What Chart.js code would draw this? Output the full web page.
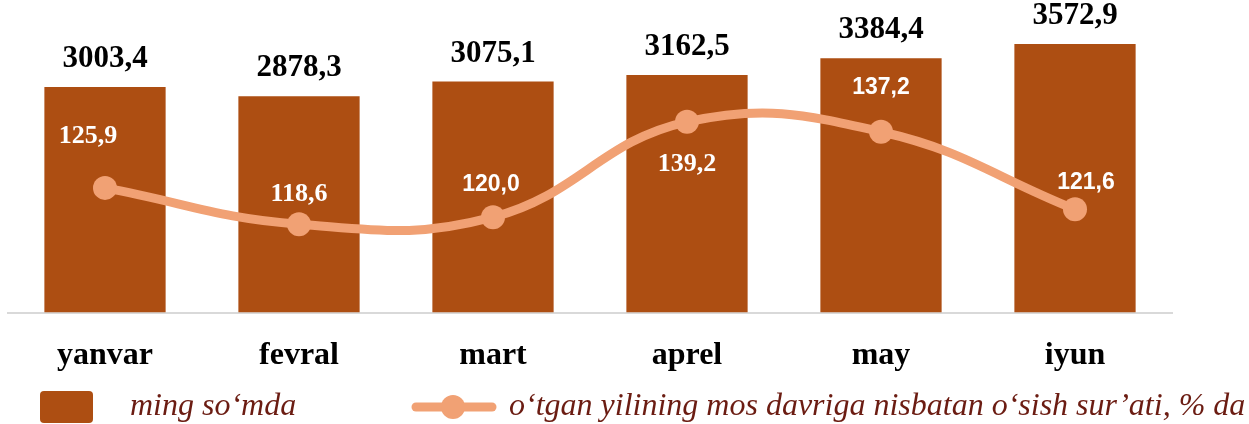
<!DOCTYPE html>
<html lang="uz">
<head>
<meta charset="UTF-8">
<title>Oylik ko'rsatkichlar</title>
<script src="https://cdn.jsdelivr.net/npm/chart.js"></script>
<style>
  body { margin: 0; background: #fff; overflow: hidden; }
  #chart { margin-left: -4px; display: block; }
</style>
</head>
<body>
<canvas id="chart" width="1253" height="424"></canvas>
<script>
// data
const months = ['yanvar', 'fevral', 'mart', 'aprel', 'may', 'iyun'];
const amounts = [3003.4, 2878.3, 3075.1, 3162.5, 3384.4, 3572.9];   // ming so'mda
const growth = [125.9, 118.6, 120.0, 139.2, 137.2, 121.6];          // % da
const barLegend = 'ming so‘mda';
const lineLegend = 'o‘tgan yilining mos davriga nisbatan o‘sish sur’ati, % da';

const BAR = '#AD4E12';
const LINE = '#F1A174';
const LEGEND_TXT = '#6B1C12';
const SHIFT = 4; // canvas is pulled 4px to the left

// label placement for the percent labels (dx, dy from the point, font family)
const growthLabelPos = [
  [-17, -52, 'serif'], [0, -30, 'serif'], [-2, -33, 'sans'],
  [0, 42, 'serif'], [0, -44, 'sans'], [11, -27, 'sans']
];

const fmt = v => v.toFixed(1).replace('.', ',');

const labelsPlugin = {
  id: 'valueLabels',
  afterDatasetsDraw(chart) {
    const ctx = chart.ctx;
    ctx.save();
    ctx.textAlign = 'center';
    ctx.textBaseline = 'middle';
    // bar values
    ctx.fillStyle = '#000';
    ctx.font = 'bold 31px "Liberation Serif"';
    chart.getDatasetMeta(0).data.forEach((bar, i) => {
      ctx.fillText(fmt(amounts[i]), bar.x, bar.y - 28);
    });
    // growth values
    ctx.fillStyle = '#fff';
    chart.getDatasetMeta(1).data.forEach((pt, i) => {
      const [dx, dy, fam] = growthLabelPos[i];
      ctx.font = fam === 'sans' ? 'bold 23px "Liberation Sans"' : 'bold 26px "Liberation Serif"';
      ctx.fillText(fmt(growth[i]), pt.x + dx, pt.y + dy);
    });
    ctx.restore();
  }
};

const legendPlugin = {
  id: 'bottomLegend',
  afterDraw(chart) {
    const ctx = chart.ctx;
    const y = 407;
    ctx.save();
    ctx.translate(SHIFT, 0);
    // bar swatch
    ctx.fillStyle = BAR;
    ctx.beginPath();
    ctx.roundRect(40, 391, 53, 32, 4);
    ctx.fill();
    ctx.font = 'italic 32px "Liberation Serif"';
    ctx.fillStyle = LEGEND_TXT;
    ctx.textBaseline = 'middle';
    ctx.fillText(barLegend, 130, y);
    // line swatch
    ctx.strokeStyle = LINE;
    ctx.lineWidth = 9;
    ctx.lineCap = 'round';
    ctx.beginPath();
    ctx.moveTo(416, y);
    ctx.lineTo(492, y);
    ctx.stroke();
    ctx.fillStyle = LINE;
    ctx.beginPath();
    ctx.arc(453, y, 12, 0, Math.PI * 2);
    ctx.fill();
    ctx.fillStyle = LEGEND_TXT;
    ctx.fillText(lineLegend, 509, y);
    ctx.restore();
  }
};

new Chart(document.getElementById('chart'), {
  data: {
    labels: months,
    datasets: [
      {
        type: 'bar',
        data: amounts,
        backgroundColor: BAR,
        yAxisID: 'y',
        order: 2,
        categoryPercentage: 1,
        barPercentage: 0.625
      },
      {
        type: 'line',
        data: growth,
        borderColor: LINE,
        backgroundColor: LINE,
        borderWidth: 9,
        pointRadius: 12,
        pointHoverRadius: 12,
        pointBorderWidth: 0,
        tension: 0.42,
        yAxisID: 'y1',
        order: 1
      }
    ]
  },
  options: {
    responsive: false,
    animation: false,
    layout: { padding: { left: 3, right: 77, top: 12, bottom: 33 } },
    plugins: {
      legend: { display: false },
      tooltip: { enabled: false }
    },
    scales: {
      x: {
        grid: { display: false },
        border: { color: '#D9D9D9', width: 2 },
        ticks: {
          color: '#000',
          padding: 16,
          font: { family: 'Liberation Serif', weight: 'bold', size: 32 }
        }
      },
      y: { display: false, min: 0, max: 4000 },
      y1: { display: false, min: 100.8, max: 161.3 }
    }
  },
  plugins: [labelsPlugin, legendPlugin]
});
</script>
</body>
</html>
